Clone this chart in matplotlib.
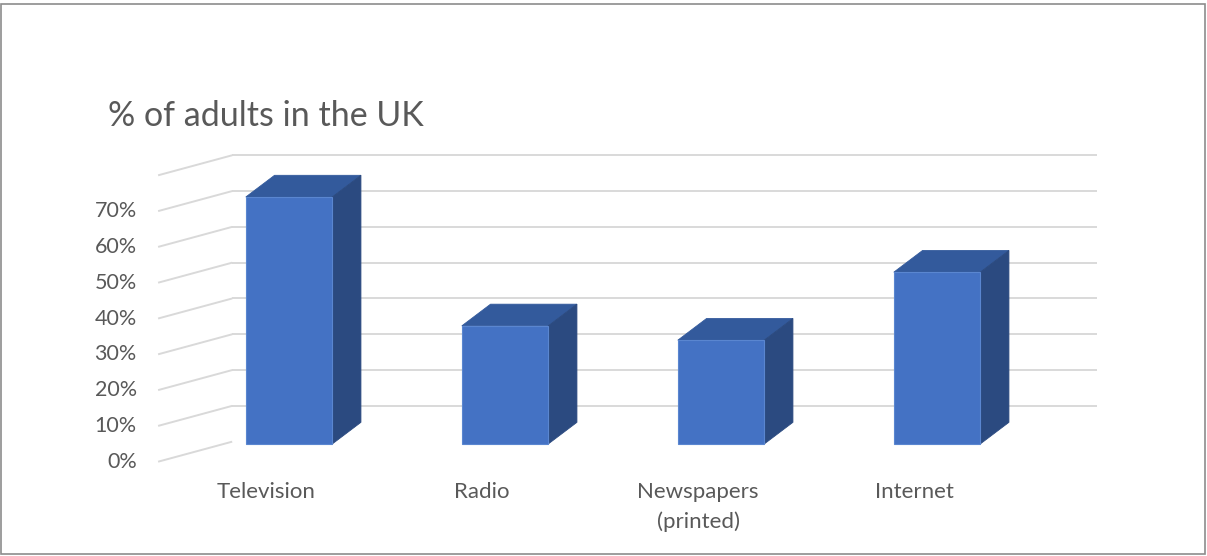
"""Excel-style 3-D column chart: % of adults in the UK by media type."""
import matplotlib
matplotlib.use("Agg")
import matplotlib.pyplot as plt
from matplotlib.patches import Polygon, Rectangle

categories = ["Television", "Radio", "Newspapers\n(printed)", "Internet"]
values = [69, 33, 29, 48]
tick_values = [0, 10, 20, 30, 40, 50, 60, 70]
tick_labels = [f"{v}%" for v in tick_values]
grid_max = 80

FRONT = "#4472C4"
TOP = "#335A9C"
SIDE = "#2B4A80"
GRID = "#D9D9D9"
TEXT = "#595959"
FONT = ["Lato", "DejaVu Sans"]

# oblique projection (in data units)
WALL_DX, WALL_DY = 0.343, 5.6     # depth of the side wall
BAR_DX, BAR_DY = 0.133, 6.06      # depth of each column
BAR_W = 0.40
BAR_BASE = 4.94
WALL_LEFT = -0.606
WALL_RIGHT = 3.74

fig = plt.figure(figsize=(12.07, 5.56), dpi=100)
ax = fig.add_axes([0, 0, 1, 1])
ax.set_xlim(-1.338, 4.25)
ax.set_ylim(-26.34, 128.97)
ax.set_axis_off()

# walls: side diagonals and back-wall gridlines
for v in range(0, grid_max + 1, 10):
    ax.plot([WALL_LEFT, WALL_LEFT + WALL_DX], [v, v + WALL_DY],
            color=GRID, lw=1.4, zorder=1, solid_capstyle="butt")
    if v > 0:
        ax.plot([WALL_LEFT + WALL_DX, WALL_RIGHT], [v + WALL_DY, v + WALL_DY],
                color=GRID, lw=1.4, zorder=1, solid_capstyle="butt")

# columns
for i, val in enumerate(values):
    x0, x1 = i - BAR_W / 2, i + BAR_W / 2
    top = BAR_BASE + val
    ax.add_patch(Polygon([(x0, top), (x1, top), (x1 + BAR_DX, top + BAR_DY),
                          (x0 + BAR_DX, top + BAR_DY)],
                         closed=True, fc=TOP, ec=TOP, lw=0.6, zorder=3))
    ax.add_patch(Polygon([(x1, BAR_BASE), (x1 + BAR_DX, BAR_BASE + BAR_DY),
                          (x1 + BAR_DX, top + BAR_DY), (x1, top)],
                         closed=True, fc=SIDE, ec=SIDE, lw=0.6, zorder=3))
    ax.add_patch(Rectangle((x0, BAR_BASE), BAR_W, val,
                           fc=FRONT, ec="#5A86D0", lw=0.8, zorder=4))

# value axis labels
for v, lab in zip(tick_values, tick_labels):
    ax.text(-0.705, v, lab, ha="right", va="center", fontsize=15.5,
            color=TEXT, family=FONT)

# category labels
for i, lab in enumerate(categories):
    ax.text(i - 0.106, -5.7, lab, ha="center", va="top", fontsize=16,
            color=TEXT, family=FONT, linespacing=1.55)

fig.text(108 / 1207, 1 - 116 / 556, "% of adults in the UK", ha="left",
         va="center", fontsize=24.5, color=TEXT, family=FONT)

# chart frame
fig.patches.append(Rectangle((0.001, 0.003), 0.997, 0.99, transform=fig.transFigure,
                             fill=False, ec="#8C8C8C", lw=1.2))

fig.savefig("out.png", dpi=100)
